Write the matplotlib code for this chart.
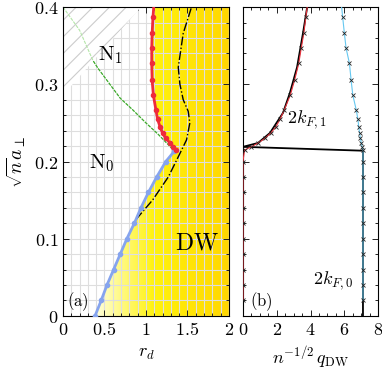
import numpy as np
import matplotlib
matplotlib.use('Agg')
import matplotlib.pyplot as plt
from matplotlib.colors import LinearSegmentedColormap
from matplotlib.patches import Polygon
from matplotlib.ticker import MultipleLocator, FuncFormatter

plt.rcParams['mathtext.fontset'] = 'cm'
plt.rcParams['font.family'] = 'serif'
plt.rcParams['hatch.linewidth'] = 0.8

# ---- panel (a): phase diagram (r_d, sqrt(n) a_perp) ----
# N0 / DW boundary (blue)
y_n0 = [0.0, 0.02, 0.04, 0.06, 0.08, 0.10, 0.12, 0.14, 0.16, 0.18, 0.20, 0.213]
rd_n0 = [0.386, 0.46, 0.53, 0.61, 0.69, 0.77, 0.86, 0.94, 1.03, 1.13, 1.24, 1.34]
# N1 / DW boundary (red)
y_n1 = [0.215, 0.219, 0.224, 0.230, 0.237, 0.245, 0.255, 0.267, 0.286, 0.305,
        0.327, 0.347, 0.366, 0.387, 0.408]
rd_n1 = [1.36, 1.33, 1.29, 1.24, 1.20, 1.17, 1.14, 1.12, 1.09, 1.075,
         1.07, 1.07, 1.075, 1.085, 1.10]
# N0 / N1 crossover (green)
rd_green = [0.0, 0.2, 0.36, 0.42, 0.69, 0.84, 1.0, 1.15, 1.33]
y_green = [0.40, 0.37, 0.331, 0.321, 0.282, 0.267, 0.250, 0.235, 0.215]
# dash-dot estimate
rd_dd = [0.88, 1.08, 1.27, 1.39, 1.49, 1.53, 1.51, 1.45, 1.41, 1.39, 1.45, 1.55]
y_dd = [0.125, 0.15, 0.18, 0.206, 0.228, 0.25, 0.265, 0.28, 0.30, 0.322, 0.366, 0.40]
# hatched region corners
hatch_rd = [0.0, 0.94, 0.0]
hatch_y = [0.40, 0.40, 0.286]

# ---- panel (b): ordering wave vector ----
y_b_low = [0.02, 0.04, 0.06, 0.08, 0.10, 0.12, 0.14, 0.16, 0.18, 0.20]
q_red_low = [0.0, 0.0, 0.0, 0.0, 0.0, 0.0, 0.0, 0.0, 0.0, 0.0]
q_blue_low = [7.1, 7.1, 7.1, 7.1, 7.1, 7.1, 7.1, 7.1, 7.1, 7.1]
q_red_high = [0.1, 0.5, 0.9, 1.3, 1.65, 1.95, 2.2, 2.45, 2.8, 3.05,
              3.3, 3.45, 3.6, 3.72, 3.85]
q_blue_high = [7.1, 7.05, 7.0, 6.95, 6.9, 6.85, 6.8, 6.7, 6.5, 6.4,
               6.3, 6.1, 6.0, 5.9, 5.8]
kf0_q = [7.1, 7.1, 0.0]
kf0_y = [0.0, 0.214, 0.219]
kf1_q = [0.0, 0.89, 1.6, 2.37, 2.78, 3.2, 3.55, 3.8]
kf1_y = [0.219, 0.224, 0.237, 0.263, 0.289, 0.322, 0.366, 0.40]

fig = plt.figure(figsize=(3.82, 3.73), dpi=100)
ax1 = fig.add_axes([0.165, 0.153, 0.434, 0.828])
ax2 = fig.add_axes([0.636, 0.153, 0.354, 0.828])

fmt = FuncFormatter(lambda v, p: '$%g$' % v)

# yellow DW region with horizontal gradient
cmap = LinearSegmentedColormap.from_list(
    'dw', [(0.0, (1, 1, 0.95)), (0.2, (1, 1, 0.85)), (0.4, (1, 0.97, 0.4)),
           (0.55, (1, 0.95, 0.05)), (1.0, (1, 0.84, 0.0))])
grad = np.linspace(0, 1, 400)[None, :]
im = ax1.imshow(grad, extent=[0, 2, 0, 0.4], aspect='auto', cmap=cmap,
                origin='lower', zorder=0.2)
region = list(zip(rd_n0, y_n0)) + list(zip(rd_n1, y_n1)) + [(2, 0.41), (2, 0)]
clip = Polygon(region, closed=True, transform=ax1.transData)
im.set_clip_path(clip)

ax1.grid(which='both', color='#dedede', lw=0.8)
ax1.set_axisbelow(True)

# hatched N1 corner hides the grid; crossover line is pale inside it
ax1.add_patch(Polygon(list(zip(hatch_rd, hatch_y)), closed=True,
                      facecolor='white', edgecolor='#cccccc',
                      hatch='//', lw=0, zorder=0.7))
ax1.plot(rd_green, y_green, color='#b4e6a8', lw=0.8, ls=(0, (3, 1)), zorder=0.8)
outside = Polygon([(hatch_rd[2], hatch_y[2]), (hatch_rd[1], hatch_y[1]),
                   (2, 0.4), (2, 0), (0, 0)], closed=True,
                  transform=ax1.transData)
dark, = ax1.plot(rd_green, y_green, color='#3aa62a', lw=0.8, ls=(0, (3, 1)),
                 zorder=0.9)
dark.set_clip_path(outside)

ax1.plot(rd_dd, y_dd, color='k', lw=1.0, ls='-.', zorder=2)
ax1.plot(rd_n0, y_n0, color='#86a4ee', lw=2, marker='o', ms=3, zorder=3)
ax1.plot(rd_n1, y_n1, color='#ee2b3b', lw=2, marker='o', ms=3, zorder=3)

ax1.text(0.57, 0.338, r'$\mathrm{N}_1$', fontsize=15, ha='center', va='center')
ax1.text(0.47, 0.198, r'$\mathrm{N}_0$', fontsize=15, ha='center', va='center')
ax1.text(1.62, 0.094, r'$\mathrm{DW}$', fontsize=17, ha='center', va='center')
ax1.text(0.05, 0.018, r'$(\mathrm{a})$', fontsize=12, ha='left', va='center')

ax1.set_xlim(0, 2)
ax1.set_ylim(0, 0.4)
ax1.xaxis.set_major_locator(MultipleLocator(0.5))
ax1.xaxis.set_minor_locator(MultipleLocator(0.1))
ax1.yaxis.set_major_locator(MultipleLocator(0.1))
ax1.yaxis.set_minor_locator(MultipleLocator(0.02))
ax1.set_xlabel(r'$r_d$', fontsize=13)
ax1.set_ylabel(r'$\sqrt{n}a_\perp$', fontsize=14)

# panel (b)
ax2.plot(kf0_q, kf0_y, color='k', lw=1.3, zorder=2)
ax2.plot(kf1_q, kf1_y, color='k', lw=1.3, zorder=2)
ax2.plot(q_red_low + q_red_high, y_b_low + y_n1, color='#e8323c', lw=0.8,
         marker='x', ms=3.5, mec='#222222', mew=0.6, zorder=3)
ax2.plot(q_blue_low + q_blue_high, y_b_low + y_n1, color='#66c8f0', lw=0.8,
         marker='x', ms=3.5, mec='#222222', mew=0.6, zorder=3)
ax2.text(2.6, 0.254, r'$2k_{F,1}$', fontsize=13, ha='left', va='center')
ax2.text(4.15, 0.045, r'$2k_{F,0}$', fontsize=13, ha='left', va='center')
ax2.text(0.4, 0.018, r'$(\mathrm{b})$', fontsize=12, ha='left', va='center')

ax2.set_xlim(0, 8)
ax2.set_ylim(0, 0.4)
ax2.set_xticks([0, 2, 4, 6, 8])
ax2.xaxis.set_minor_locator(MultipleLocator(0.5))
ax2.yaxis.set_major_locator(MultipleLocator(0.1))
ax2.yaxis.set_minor_locator(MultipleLocator(0.02))
ax2.set_xlabel(r'$n^{-1/2}\,q_{\mathrm{DW}}$', fontsize=13)

for ax in (ax1, ax2):
    ax.xaxis.set_major_formatter(fmt)
    ax.tick_params(which='both', direction='in', top=True, right=True,
                   labelsize=13, width=0.6)
    ax.tick_params(which='major', length=4)
    ax.tick_params(which='minor', length=2)
    for s in ax.spines.values():
        s.set_linewidth(0.8)
ax1.yaxis.set_major_formatter(fmt)
ax2.yaxis.set_major_formatter(FuncFormatter(lambda v, p: ''))

fig.savefig('out.png', dpi=100)
